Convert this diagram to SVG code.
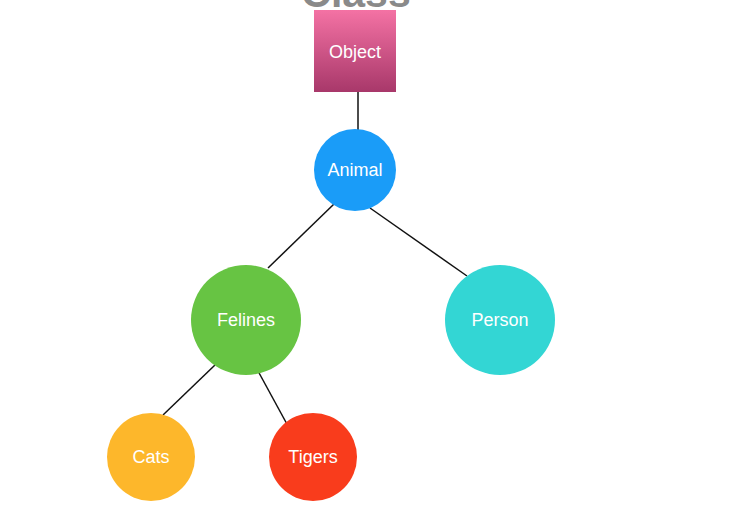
<svg xmlns="http://www.w3.org/2000/svg" width="745" height="522" viewBox="0 0 745 522">
<style>
.lbl{font-family:"Liberation Sans",Arial,sans-serif;font-size:18px;fill:#fff;text-anchor:middle;dominant-baseline:central}
.edge{stroke:#111;stroke-width:1.5;fill:none}
</style>
<defs>
<linearGradient id="pink" x1="0" y1="0" x2="0" y2="1">
<stop offset="0" stop-color="#f472a4"/>
<stop offset="1" stop-color="#a8386a"/>
</linearGradient>
</defs>
<rect width="745" height="522" fill="#fff"/>
<text x="356" y="7" font-family="Liberation Sans,Arial,sans-serif" font-weight="bold" font-size="41" fill="#8a8a8a" text-anchor="middle">Class</text>
<g id="connectors">
<line class="edge" x1="358" y1="92" x2="358" y2="131"/>
<line class="edge" x1="334" y1="204" x2="268" y2="268"/>
<line class="edge" x1="370" y1="208" x2="467" y2="276"/>
<line class="edge" x1="215" y1="365" x2="163" y2="415"/>
<line class="edge" x1="258" y1="371" x2="288" y2="426"/>
</g>
<g id="object"><rect x="314" y="10" width="82" height="82" fill="url(#pink)"/><text class="lbl" x="355" y="52">Object</text></g>
<g id="animal"><circle cx="355" cy="170" r="41" fill="#1a9cf8"/><text class="lbl" x="355" y="170">Animal</text></g>
<g id="felines"><circle cx="246" cy="320" r="55" fill="#67c443"/><text class="lbl" x="246" y="320">Felines</text></g>
<g id="person"><circle cx="500" cy="320" r="55" fill="#33d6d4"/><text class="lbl" x="500" y="320">Person</text></g>
<g id="cats"><circle cx="151" cy="457" r="44" fill="#fdb72b"/><text class="lbl" x="151" y="457">Cats</text></g>
<g id="tigers"><circle cx="313" cy="457" r="44" fill="#f93c1c"/><text class="lbl" x="313" y="457">Tigers</text></g>
</svg>
